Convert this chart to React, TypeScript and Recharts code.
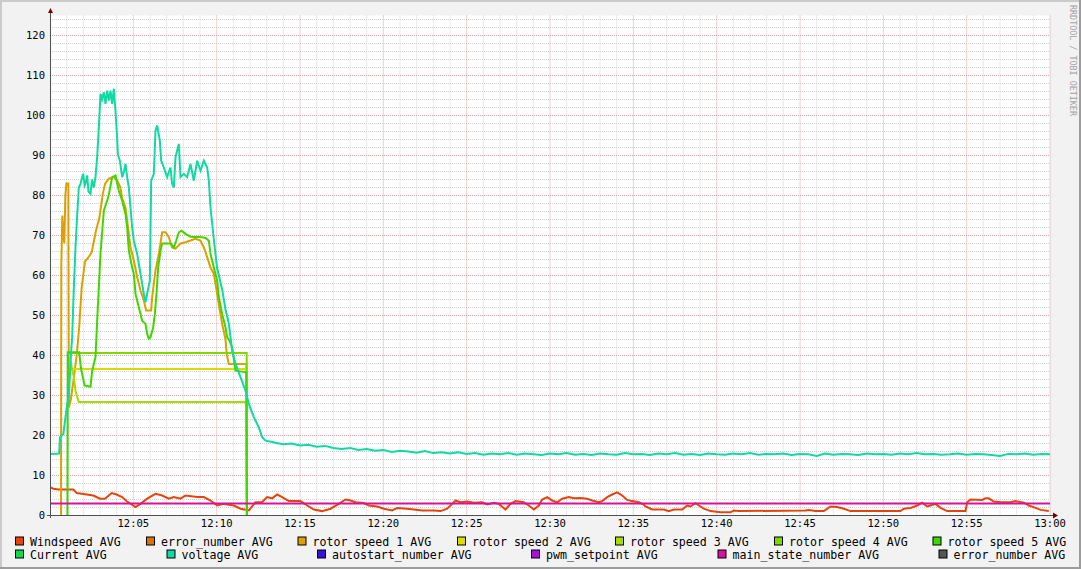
import React from 'react';
import { LineChart, Line, XAxis, YAxis, CartesianGrid } from 'recharts';

type P = [number, number];

// time in minutes after 12:00, value
const windspeed: P[] = [
  [0, 7.1], [0.2, 6.7], [0.5, 6.5], [1.0, 6.5], [1.4, 6.5], [1.6, 5.6], [2.0, 5.4], [2.6, 5.0], [3.0, 4.2],
  [3.3, 4.2], [3.7, 5.6], [3.95, 5.3], [4.33, 4.6], [4.63, 3.5], [5.13, 2.1], [5.43, 2.9], [5.83, 4.2],
  [6.33, 5.4], [6.73, 5.0], [7.13, 4.2], [7.43, 4.6], [7.83, 4.2], [8.13, 5.0], [8.83, 4.6], [9.23, 4.6],
  [9.63, 3.75], [10.03, 2.5], [10.43, 2.9], [11.03, 2.5], [11.43, 1.7], [11.93, 1.3], [12.33, 3.3],
  [12.73, 3.4], [13.03, 4.6], [13.33, 4.3], [13.63, 5.25], [13.93, 4.6], [14.33, 3.6], [15.03, 3.6],
  [15.43, 2.5], [15.83, 1.5], [16.33, 1.1], [16.83, 1.7], [17.33, 2.9], [17.73, 4.0], [18.03, 3.75],
  [18.33, 3.3], [18.83, 3.1], [19.13, 2.5], [19.63, 2.25], [20.03, 1.7], [20.53, 1.25], [20.83, 1.9],
  [21.43, 1.7], [21.83, 1.5], [22.33, 1.25], [23.03, 1.25], [23.43, 1.1], [23.83, 1.7], [24.13, 2.9],
  [24.33, 3.75], [24.63, 3.3], [25.03, 3.5], [25.43, 3.2], [25.93, 3.3], [26.23, 2.75], [26.63, 3.2],
  [26.93, 2.9], [27.33, 1.5], [27.63, 2.9], [27.93, 3.6], [28.43, 3.3], [28.73, 2.5], [29.03, 1.5],
  [29.33, 2.5], [29.53, 4.0], [29.83, 4.6], [30.13, 3.75], [30.43, 3.3], [30.73, 4.2], [31.13, 4.6],
  [31.43, 4.3], [31.83, 4.4], [32.23, 4.2], [32.53, 3.75], [32.93, 3.3], [33.13, 3.6], [33.43, 4.6],
  [33.73, 5.25], [34.03, 5.8], [34.33, 5.0], [34.63, 3.9], [34.93, 3.6], [35.33, 3.3], [35.63, 2.75],
  [35.73, 2.25], [36.13, 1.5], [36.83, 1.5], [37.13, 1.1], [37.43, 1.5], [37.93, 1.5], [38.23, 2.5],
  [38.43, 2.25], [38.73, 3.1], [38.93, 2.5], [39.23, 1.7], [39.63, 1.1], [40.23, 0.8], [40.83, 0.8],
  [41.03, 1.25], [41.33, 1.1], [45.33, 1.25], [45.53, 1.4], [45.93, 1.1], [46.43, 1.1], [46.83, 2.25],
  [47.23, 2.1], [47.63, 1.7], [48.03, 1.1], [51.03, 1.1], [51.23, 1.7], [51.63, 1.9], [52.03, 2.5],
  [52.33, 3.2], [52.63, 2.25], [52.83, 2.5], [53.13, 2.9], [53.43, 1.9], [53.83, 1.1], [54.93, 1.1],
  [55.03, 3.3], [55.23, 4.0], [55.93, 3.9], [56.13, 4.3], [56.33, 4.3], [56.63, 3.5], [57.03, 3.3],
  [57.63, 3.3], [57.93, 3.6], [58.43, 3.2], [58.73, 2.5], [59.13, 1.9], [59.43, 1.4], [59.93, 1.1],
];

const rotorSpeed1: P[] = [
  [0.66, 0], [0.68, 63], [0.74, 75], [0.8, 70], [0.86, 68], [0.92, 80], [0.98, 83], [1.1, 83], [1.13, 27],
  [1.25, 29], [1.45, 35], [1.6, 40], [1.75, 47], [1.9, 57], [2.1, 63.5], [2.3, 64.5], [2.5, 65.8],
  [2.75, 71], [2.97, 74.6], [3.17, 80.4], [3.3, 82.9], [3.53, 84.2], [3.83, 84.6], [4.03, 83.75],
  [4.23, 82], [4.33, 79.2], [4.53, 77], [4.63, 73.75], [4.83, 67], [5.03, 63.75], [5.23, 59.6],
  [5.43, 56.25], [5.63, 53.75], [5.77, 51.25], [6.07, 51.25], [6.13, 54.6], [6.33, 61.25], [6.53, 65.4],
  [6.73, 70.8], [6.93, 70.8], [7.13, 69.6], [7.33, 67], [7.53, 66.7], [7.83, 68], [8.13, 68.3],
  [8.43, 68.75], [8.73, 69.2], [9.03, 68.75], [9.23, 67], [9.43, 64.6], [9.63, 62], [9.83, 60.4],
  [10.03, 55.4], [10.19, 51.25], [10.33, 47.9], [10.53, 44], [10.6, 40.4], [10.73, 37.9], [11.79, 37.9],
  [11.81, 0],
];

const rotorSpeed2: P[] = [[1.3, 36.6], [11.78, 36.6], [11.8, 0]];

const rotorSpeed3: P[] = [
  [1.23, 38.7], [1.33, 36.5], [1.43, 34.6], [1.53, 31.2], [1.63, 29.6], [1.73, 28.4], [11.79, 28.4], [11.81, 0],
];

const rotorSpeed4: P[] = [[1.09, 40.6], [11.8, 40.6], [11.82, 0]];

const rotorSpeed5: P[] = [
  [1.05, 0], [1.07, 40.8], [1.75, 40.8], [1.85, 37], [1.97, 34.6], [2.07, 32.5], [2.43, 32.2], [2.53, 36.2],
  [2.73, 39.6], [2.83, 48.7], [3.03, 65.5], [3.23, 76.2], [3.5, 79.6], [3.73, 84.6], [3.93, 85],
  [4.13, 81.2], [4.33, 78.7], [4.53, 75.4], [4.63, 72], [4.73, 66.2], [4.93, 62], [5.03, 60.4],
  [5.13, 55.4], [5.23, 53.7], [5.43, 50.4], [5.53, 48.7], [5.73, 47.9], [5.83, 45.4], [5.93, 44.2],
  [6.03, 44.6], [6.19, 47], [6.29, 50.4], [6.39, 55.4], [6.49, 62], [6.63, 66.2], [6.73, 68], [7.03, 68],
  [7.23, 68], [7.43, 67], [7.57, 68.7], [7.73, 70.8], [7.89, 71.2], [8.13, 70.4], [8.43, 69.7],
  [8.73, 69.6], [9.03, 69.6], [9.33, 69.4], [9.53, 68.7], [9.63, 65.4], [9.83, 62], [10.03, 58.7],
  [10.13, 54.6], [10.33, 50.4], [10.53, 47], [10.63, 44.6], [10.77, 43.7], [10.93, 42], [11.13, 36.2],
  [11.78, 35.8], [11.82, 0],
];

const voltage: P[] = [
  [0, 15.4], [0.55, 15.5], [0.6, 19.6], [0.8, 20.4], [0.93, 24.6], [1.03, 27.9], [1.13, 29.6], [1.19, 34.6],
  [1.27, 41.2], [1.33, 44.6], [1.43, 57], [1.53, 67], [1.63, 75], [1.73, 82], [1.83, 82.9], [1.93, 84.6],
  [1.99, 85.4], [2.08, 82.5], [2.13, 83], [2.23, 85], [2.31, 81], [2.43, 80.4], [2.52, 84], [2.63, 82],
  [2.73, 84.6], [2.83, 89.6], [2.93, 97], [3.03, 105.4], [3.12, 104], [3.23, 105.8], [3.33, 102.9],
  [3.43, 106.2], [3.53, 103.7], [3.63, 106.2], [3.73, 102.9], [3.83, 106.7], [3.93, 101], [4.02, 95],
  [4.07, 90.4], [4.19, 88.7], [4.33, 84.6], [4.44, 86], [4.53, 87.9], [4.63, 84.6], [4.73, 82], [4.83, 77],
  [4.93, 72], [5.03, 68.7], [5.23, 65.4], [5.43, 60.4], [5.63, 55.4], [5.73, 53.3], [5.83, 55.4],
  [5.99, 58.7], [6.07, 83.7], [6.23, 85.4], [6.33, 96.2], [6.43, 97.5], [6.59, 93.7], [6.67, 88.7],
  [6.83, 87], [7.03, 84.6], [7.14, 86], [7.23, 87], [7.32, 83], [7.43, 82], [7.53, 89.6], [7.73, 92.9],
  [7.83, 84.6], [8.03, 85.4], [8.23, 84.6], [8.43, 87.9], [8.63, 83.7], [8.83, 88.7], [9.03, 86.2],
  [9.23, 88.7], [9.43, 87], [9.53, 83.7], [9.63, 77], [9.83, 69], [10.02, 62], [10.13, 60], [10.33, 56.5],
  [10.53, 51.5], [10.73, 48], [10.93, 41.2], [11.13, 37.9], [11.43, 34.6], [11.73, 31.2], [11.93, 27.9],
  [12.23, 24.6], [12.53, 22], [12.73, 19.6], [12.93, 18.7], [13.43, 18.3],
  [13.5, 18.2], [14.0, 17.8], [14.5, 18.0], [15.0, 17.5], [15.5, 17.7], [16.0, 17.2], [16.5, 17.4],
  [17.0, 16.9], [17.5, 16.6], [18.0, 16.9], [18.5, 16.4], [19.0, 16.6], [19.5, 16.2], [20.0, 16.4],
  [20.5, 15.9], [21.0, 16.2], [21.5, 16.0], [22.0, 15.7], [22.5, 16.1], [23.0, 15.6], [23.5, 15.8],
  [24.0, 15.5], [24.5, 15.8], [25.0, 15.4], [25.5, 15.6], [26.0, 15.2], [26.5, 15.5], [27.0, 15.3],
  [27.5, 15.6], [28.0, 15.2], [28.5, 15.5], [29.0, 15.3], [29.5, 15.1], [30.0, 15.5], [30.5, 15.3],
  [31.0, 15.6], [31.5, 15.2], [32.0, 15.4], [32.5, 15.1], [33.0, 15.5], [33.5, 15.3], [34.0, 15.2],
  [34.5, 15.6], [35.0, 15.3], [35.5, 15.4], [36.0, 15.1], [36.5, 15.5], [37.0, 15.3], [37.5, 15.6],
  [38.0, 15.2], [38.5, 15.4], [39.0, 15.1], [39.5, 15.5], [40.0, 15.3], [40.5, 15.2], [41.0, 15.5],
  [41.5, 15.3], [42.0, 15.6], [42.5, 15.2], [43.0, 15.4], [43.5, 15.3], [44.0, 15.5], [44.5, 15.1],
  [45.0, 15.4], [45.5, 15.3], [46.0, 14.9], [46.5, 15.5], [47.0, 15.2], [47.5, 15.4], [48.0, 15.3],
  [48.5, 15.1], [49.0, 15.5], [49.5, 15.3], [50.0, 15.4], [50.5, 15.2], [51.0, 15.5], [51.5, 15.3],
  [52.0, 15.6], [52.5, 15.3], [53.0, 15.4], [53.5, 15.2], [54.0, 15.3], [54.5, 15.5], [55.0, 15.2],
  [55.5, 15.4], [56.0, 15.3], [56.5, 15.1], [57.0, 14.9], [57.5, 15.4], [58.0, 15.3], [58.5, 15.5],
  [59.0, 15.2], [59.5, 15.4], [60.0, 15.3],
];

const mainStateNumber: P[] = [[0, 3], [60, 3]];

const xTicks = [5, 10, 15, 20, 25, 30, 35, 40, 45, 50, 55, 60];
const xTickLabels = ['12:05', '12:10', '12:15', '12:20', '12:25', '12:30', '12:35', '12:40', '12:45', '12:50', '12:55', '13:00'];
const yTicks = [0, 10, 20, 30, 40, 50, 60, 70, 80, 90, 100, 110, 120];
const minorXValues = Array.from({ length: 59 }, (_, i) => i + 1).filter((v) => v % 5 !== 0);
const minorYValues = Array.from({ length: 62 }, (_, i) => (i + 1) * 2).filter((v) => v % 10 !== 0);
const majorXValues = [5, 10, 15, 20, 25, 30, 35, 40, 45, 50, 55, 60];
const majorYValues = [10, 20, 30, 40, 50, 60, 70, 80, 90, 100, 110, 120];

type Series = { name: string; color: string; points: P[] | null };

const series: Series[] = [
  { name: 'Windspeed AVG', color: '#E5450C', points: windspeed },
  { name: 'error_number AVG', color: '#D9720D', points: null },
  { name: 'rotor speed 1 AVG', color: '#DCA000', points: rotorSpeed1 },
  { name: 'rotor speed 2 AVG', color: '#DBDB00', points: rotorSpeed2 },
  { name: 'rotor speed 3 AVG', color: '#A8DB00', points: rotorSpeed3 },
  { name: 'rotor speed 4 AVG', color: '#7AD900', points: rotorSpeed4 },
  { name: 'rotor speed 5 AVG', color: '#40D600', points: rotorSpeed5 },
  { name: 'Current AVG', color: '#10D94A', points: null },
  { name: 'voltage AVG', color: '#10D9A2', points: voltage },
  { name: 'autostart_number AVG', color: '#3A10D9', points: null },
  { name: 'pwm_setpoint AVG', color: '#A910D9', points: null },
  { name: 'main_state_number AVG', color: '#D910A0', points: mainStateNumber },
  { name: 'error_number AVG', color: '#555555', points: null },
];

// legend layout (text x, row) per series, in the same order
const legendLayout: [number, number][] = [
  [30, 0], [161, 0], [312.5, 0], [472, 0], [630, 0], [789, 0], [947.5, 0],
  [30, 1], [181.5, 1], [332, 1], [546, 1], [732.5, 1], [953.5, 1],
];

const MONO = '"DejaVu Sans Mono", monospace';

export default function App() {
  return (
    <div style={{ position: 'absolute', left: 0, top: 0, width: 1081, height: 569, background: '#f2f2f2', overflow: 'hidden' }}>
      <div style={{ position: 'absolute', left: 0, top: 0 }}>
        <LineChart width={1081} height={569} margin={{ top: 15.5, right: 31, bottom: 33.5, left: 0 }}>
          <CartesianGrid
            fill="#ffffff"
            stroke="#d2d2d2"
            strokeDasharray="1 1"
            horizontalValues={minorYValues}
            verticalValues={minorXValues}
          />
          <CartesianGrid
            fill="none"
            stroke="#e0a4a4"
            strokeDasharray="1 1"
            horizontalValues={majorYValues}
            verticalValues={majorXValues}
          />
          <XAxis
            type="number"
            dataKey="t"
            domain={[0, 60]}
            ticks={xTicks}
            interval={0}
            tickFormatter={(v: number) => xTickLabels[xTicks.indexOf(v)] ?? ''}
            axisLine={false}
            tickLine={false}
            tickSize={0}
            tickMargin={4.5}
            height={20}
            allowDataOverflow
            tick={{ fontSize: 10.5, fontFamily: MONO, fill: '#000' }}
          />
          <YAxis
            type="number"
            domain={[0, 125]}
            ticks={yTicks}
            interval={0}
            width={50}
            axisLine={false}
            tickLine={false}
            tickSize={0}
            tickMargin={5}
            allowDataOverflow
            tick={{ fontSize: 10.5, fontFamily: MONO, fill: '#000' }}
          />
          {series.map((s, i) =>
            s.points ? (
              <Line
                key={i}
                data={s.points.map(([t, v]) => ({ t, v }))}
                dataKey="v"
                type="linear"
                stroke={s.color}
                strokeWidth={2}
                dot={false}
                activeDot={false}
                isAnimationActive={false}
                strokeLinejoin="miter"
              />
            ) : null
          )}
        </LineChart>
      </div>
      <svg width={1081} height={569} style={{ position: 'absolute', left: 0, top: 0, pointerEvents: 'none' }}>
        {/* frame shading */}
        <rect x={0} y={0} width={1081} height={2} fill="#cbcbcb" />
        <rect x={0} y={0} width={2} height={569} fill="#cbcbcb" />
        <rect x={0} y={567} width={1081} height={2} fill="#9c9c9c" />
        <rect x={1079} y={0} width={2} height={569} fill="#9c9c9c" />
        {/* axes with arrows */}
        <line x1={47} y1={515.5} x2={1054} y2={515.5} stroke="#505050" strokeWidth={1} />
        <line x1={50.5} y1={518} x2={50.5} y2={12} stroke="#505050" strokeWidth={1} />
        <polygon points="1053,512.5 1058,515.5 1053,518.5" fill="#7a0000" />
        <polygon points="48,13 50.5,8 53,13" fill="#7a0000" />
        {/* watermark */}
        <text
          x={1069.5}
          y={5}
          transform="rotate(90 1069.5 5)"
          fontSize={8.4}
          fontFamily={MONO}
          fill="#a3a3a3"
        >
          RRDTOOL / TOBI OETIKER
        </text>
        {/* legend */}
        {series.map((s, i) => {
          const [tx, row] = legendLayout[i];
          const baseY = row === 0 ? 545.5 : 558.5;
          return (
            <g key={i}>
              <rect x={tx - 14.5} y={baseY - 8.5} width={8} height={8} fill={s.color} stroke="#000" strokeWidth={1} />
              <text x={tx} y={baseY} fontSize={11.6} fontFamily={MONO} fill="#000" style={{ whiteSpace: 'pre' }}>
                {s.name}
              </text>
            </g>
          );
        })}
      </svg>
    </div>
  );
}
